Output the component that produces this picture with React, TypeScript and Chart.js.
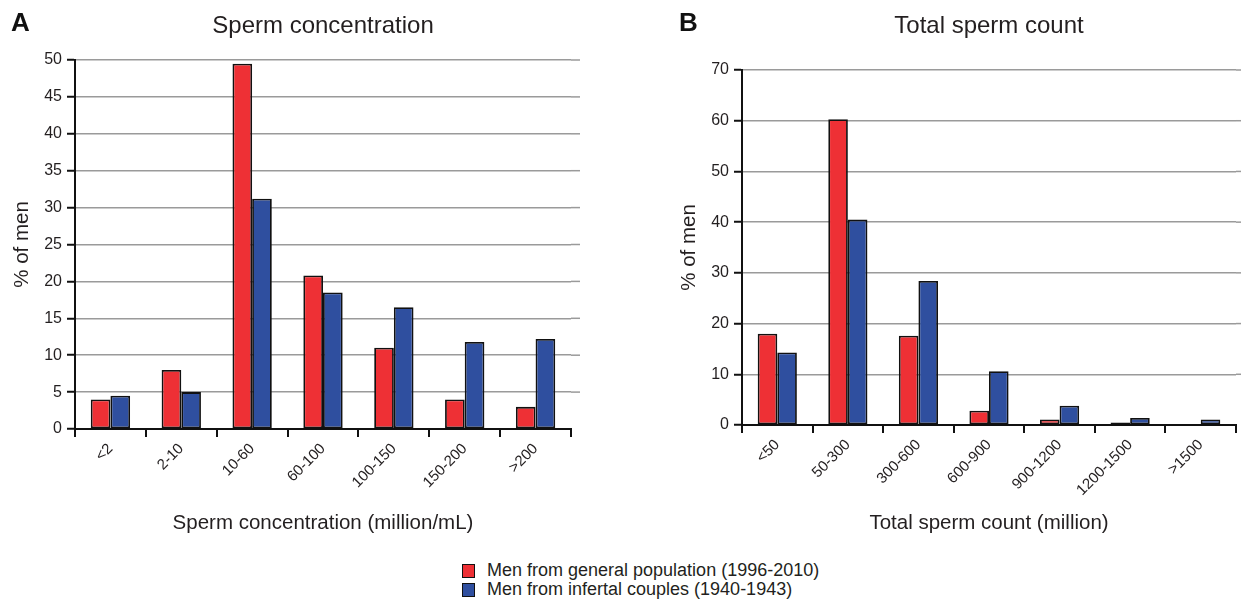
import { useEffect, useRef } from 'react';
import { Chart, registerables } from 'chart.js';

Chart.register(...registerables);

// ---------- data ----------
const concCategories = ['<2', '2-10', '10-60', '60-100', '100-150', '150-200', '>200'];
const concGeneral = [4.0, 8.0, 49.5, 20.8, 11.0, 4.0, 3.0];
const concInfertile = [4.5, 5.0, 31.2, 18.5, 16.5, 11.8, 12.2];

const countCategories = ['<50', '50-300', '300-600', '600-900', '900-1200', '1200-1500', '>1500'];
const countGeneral = [18.0, 60.3, 17.6, 2.8, 1.1, 0.5, 0];
const countInfertile = [14.3, 40.5, 28.4, 10.6, 3.8, 1.4, 1.1];

const seriesLabels = ['Men from general population (1996-2010)', 'Men from infertal couples (1940-1943)'];

// ---------- style ----------
const FONT = '"Liberation Sans", Arial, Helvetica, sans-serif';
const TEXT = '#231f20';
const RED = '#ee3035';
const BLUE = '#2f4f9f';
const GRID = '#9a9a9a';

type PanelSpec = {
  title: string;
  xTitle: string;
  categories: string[];
  general: number[];
  infertile: number[];
  yMax: number;
  yStep: number;
  yWidth: number;
  xHeight: number;
  titleBox: number;
  yTitlePad: number;
  padRight: number;
  gridExt: number;
};

const extendGridPlugin = (ext: number) => ({
  id: 'extendGrid',
  beforeDatasetsDraw(chart: any) {
    const { ctx, chartArea, scales } = chart;
    const y = scales.y;
    ctx.save();
    ctx.strokeStyle = GRID;
    ctx.lineWidth = 1.5;
    y.ticks.forEach((t: any) => {
      if (t.value === 0) return;
      const py = y.getPixelForValue(t.value);
      ctx.beginPath();
      ctx.moveTo(chartArea.right, py);
      ctx.lineTo(chartArea.right + ext, py);
      ctx.stroke();
    });
    ctx.restore();
  },
});

function makeConfig(p: PanelSpec): any {
  const titleFont = 24;
  const titleLH = titleFont * 1.2;
  const barStyle = {
    borderColor: '#111',
    borderWidth: 1.8,
    borderSkipped: false,
    categoryPercentage: 0.555,
    barPercentage: 1,
  };
  return {
    type: 'bar',
    data: {
      labels: p.categories,
      datasets: [
        { label: seriesLabels[0], data: p.general, backgroundColor: RED, ...barStyle },
        { label: seriesLabels[1], data: p.infertile, backgroundColor: BLUE, ...barStyle },
      ],
    },
    options: {
      animation: false,
      responsive: false,
      maintainAspectRatio: false,
      layout: { padding: { left: 0, right: p.padRight, top: 0, bottom: 0 } },
      plugins: {
        legend: { display: false },
        tooltip: { enabled: false },
        title: {
          display: true,
          text: p.title,
          fullSize: false,
          color: TEXT,
          font: { family: FONT, size: titleFont, weight: 'normal', lineHeight: 1.2 },
          padding: { top: 12, bottom: p.titleBox - 12 - titleLH },
        },
      },
      scales: {
        x: {
          type: 'category',
          afterFit: (scale: any) => {
            scale.height = p.xHeight;
          },
          grid: {
            display: true,
            offset: true,
            drawOnChartArea: false,
            drawTicks: true,
            tickLength: 8,
            color: '#111',
            tickColor: '#111',
            lineWidth: 2,
            tickWidth: 2,
          },
          border: { display: true, color: '#111', width: 2 },
          ticks: {
            autoSkip: false,
            minRotation: 45,
            maxRotation: 45,
            padding: 3,
            color: TEXT,
            font: { family: FONT, size: 15 },
          },
          title: {
            display: true,
            text: p.xTitle,
            color: TEXT,
            font: { family: FONT, size: 20.5, lineHeight: 1.2 },
            padding: { top: 0, bottom: 14.5 },
          },
        },
        y: {
          type: 'linear',
          min: 0,
          max: p.yMax,
          afterFit: (scale: any) => {
            scale.width = p.yWidth;
          },
          grid: {
            display: true,
            drawTicks: true,
            tickLength: 8,
            color: GRID,
            lineWidth: 1.5,
            tickColor: '#111',
            tickWidth: 2,
          },
          border: { display: true, color: '#111', width: 2 },
          ticks: {
            stepSize: p.yStep,
            padding: 5,
            color: TEXT,
            font: { family: FONT, size: 16 },
          },
          title: {
            display: true,
            text: '% of men',
            color: TEXT,
            font: { family: FONT, size: 20.5, lineHeight: 1.2 },
            padding: { top: p.yTitlePad, bottom: 0 },
          },
        },
      },
    },
    plugins: [extendGridPlugin(p.gridExt)],
  };
}

function Panel({ spec, left, width, height }: { spec: PanelSpec; left: number; width: number; height: number }) {
  const ref = useRef<HTMLCanvasElement | null>(null);
  useEffect(() => {
    if (!ref.current) return;
    const chart = new Chart(ref.current, makeConfig(spec));
    return () => chart.destroy();
  }, [spec]);
  return (
    <canvas
      ref={ref}
      width={width}
      height={height}
      style={{ position: 'absolute', left, top: 0, width, height }}
    />
  );
}

const panelA: PanelSpec = {
  title: 'Sperm concentration',
  xTitle: 'Sperm concentration (million/mL)',
  categories: concCategories,
  general: concGeneral,
  infertile: concInfertile,
  yMax: 50,
  yStep: 5,
  yWidth: 75,
  xHeight: 121,
  titleBox: 60,
  yTitlePad: 10,
  padRight: 29,
  gridExt: 9,
};

const panelB: PanelSpec = {
  title: 'Total sperm count',
  xTitle: 'Total sperm count (million)',
  categories: countCategories,
  general: countGeneral,
  infertile: countInfertile,
  yMax: 70,
  yStep: 10,
  yWidth: 92,
  xHeight: 125,
  titleBox: 70,
  yTitlePad: 27,
  padRight: 5,
  gridExt: 5,
};

export default function App() {
  const letter = {
    position: 'absolute' as const,
    top: 9,
    fontFamily: FONT,
    fontWeight: 'bold' as const,
    fontSize: 26,
    lineHeight: '26px',
    color: '#111',
  };
  const legendRow = (color: string, text: string, top: number) => (
    <div style={{ position: 'absolute', left: 462, top, height: 19, display: 'flex', alignItems: 'center' }}>
      <span
        style={{
          display: 'inline-block',
          width: 11,
          height: 12,
          background: color,
          border: '1px solid #111',
          marginRight: 12,
        }}
      />
      <span style={{ fontFamily: FONT, fontSize: 18, color: TEXT, whiteSpace: 'nowrap', lineHeight: '19px' }}>{text}</span>
    </div>
  );
  return (
    <div style={{ position: 'absolute', left: 0, top: 0, width: 1241, height: 608, background: '#fff', overflow: 'hidden' }}>
      <Panel spec={panelA} left={0} width={600} height={550} />
      <Panel spec={panelB} left={650} width={591} height={550} />
      <div style={{ ...letter, left: 11 }}>A</div>
      <div style={{ ...letter, left: 679 }}>B</div>
      {legendRow(RED, seriesLabels[0], 561)}
      {legendRow(BLUE, seriesLabels[1], 580)}
    </div>
  );
}
